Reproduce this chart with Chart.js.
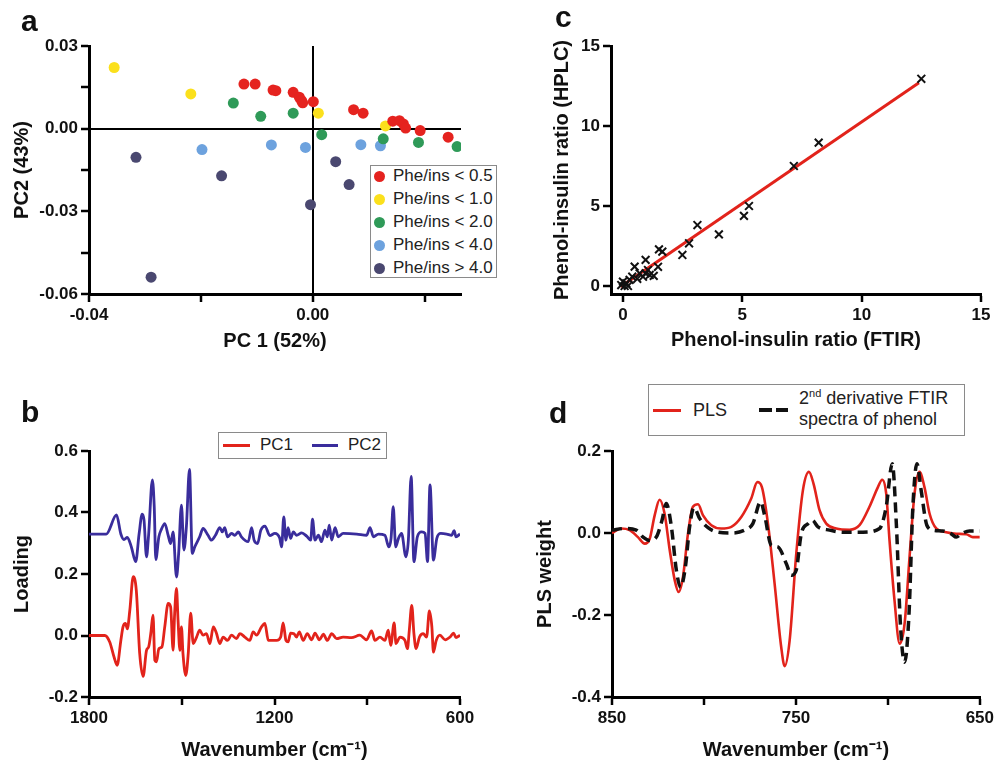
<!DOCTYPE html>
<html>
<head>
<meta charset="utf-8">
<script src="https://cdn.jsdelivr.net/npm/chart.js@4.4.0/dist/chart.umd.min.js"></script>
<style>
  body { margin: 0; background: #fff; width: 997px; height: 762px; position: relative; overflow: hidden;
         font-family: "Liberation Sans", Arial, Helvetica, sans-serif; color: #111; }
  canvas { position: absolute; }
  .tag { position: absolute; font-weight: bold; font-size: 30px; line-height: 30px; color: #111; }
  .legend { position: absolute; box-sizing: border-box; border: 1.5px solid #8a8a8a; background: #fff; color: #222; }
  .legend .row { position: absolute; white-space: nowrap; }
  .swatch { position: absolute; }
</style>
</head>
<body>
<canvas id="chartA" width="498" height="380" style="left:0;top:0"></canvas>
<canvas id="chartC" width="497" height="380" style="left:500px;top:0"></canvas>
<canvas id="chartB" width="498" height="382" style="left:0;top:380px"></canvas>
<canvas id="chartD" width="497" height="382" style="left:500px;top:380px"></canvas>

<div class="tag" style="left:21px;top:6px">a</div>
<div class="tag" style="left:555px;top:2px">c</div>
<div class="tag" style="left:21px;top:397px">b</div>
<div class="tag" style="left:549px;top:398px">d</div>

<div class="legend" id="legendA" style="left:370px;top:165px;width:127px;height:113px"></div>
<div class="legend" id="legendB" style="left:218px;top:432px;width:169px;height:27px"></div>
<div class="legend" id="legendD" style="left:648px;top:384px;width:317px;height:52px"></div>

<script>
const FONT = '"Liberation Sans", Arial, Helvetica, sans-serif';

// ── a: PCA scores (PC1, PC2) ──────────────────────────────────────────────
const scoreLabels = ['Phe/ins < 0.5', 'Phe/ins < 1.0', 'Phe/ins < 2.0', 'Phe/ins < 4.0', 'Phe/ins > 4.0'];
const scoreColors = ['#e5231f', '#fbe01c', '#2f9a58', '#6da2de', '#4a4870'];
const scoresBelow05 = [
    [-0.0123, 0.0162], [-0.0103, 0.0162], [-0.0071, 0.0140], [-0.0066, 0.0138], [-0.0035, 0.0132],
    [-0.0024, 0.0114], [-0.0020, 0.0102], [-0.0018, 0.0094], [0.0001, 0.0098], [0.0073, 0.0069],
    [0.0090, 0.0056], [0.0143, 0.0027], [0.0155, 0.0029], [0.0162, 0.0017], [0.0166, 0.0002],
    [0.0192, -0.0007], [0.0242, -0.0031]
];
const scoresBelow10 = [[-0.0355, 0.0222], [-0.0218, 0.0126], [0.0010, 0.0056], [0.0130, 0.0010]];
const scoresBelow20 = [
    [-0.0142, 0.0093], [-0.0093, 0.0045], [-0.0035, 0.0056], [0.0016, -0.0022],
    [0.0126, -0.0037], [0.0189, -0.0050], [0.0258, -0.0065]
];
const scoresBelow40 = [[-0.0198, -0.0076], [-0.0074, -0.0059], [-0.0013, -0.0068], [0.0086, -0.0058], [0.0121, -0.0062]];
const scoresAbove40 = [[-0.0316, -0.0104], [-0.0163, -0.0171], [-0.0004, -0.0276], [0.0041, -0.0120], [0.0065, -0.0203], [-0.0289, -0.0539]];
const scoreGroups = [scoresBelow05, scoresBelow10, scoresBelow20, scoresBelow40, scoresAbove40];

// ── b: PCA loadings ───────────────────────────────────────────────────────
const pc1Wavenumber = [1800, 1749, 1733, 1719, 1709, 1697, 1690, 1682, 1676, 1668, 1657, 1647, 1636, 1625, 1614, 1607,
    1600, 1593, 1587, 1582, 1574, 1564, 1555, 1544, 1536, 1528, 1523, 1517, 1512, 1506, 1501, 1496, 1487, 1479, 1471,
    1463, 1452, 1442, 1431, 1420, 1409, 1398, 1388, 1377, 1366, 1352, 1339, 1323, 1312, 1296, 1280, 1269, 1258, 1242,
    1231, 1220, 1204, 1193, 1180, 1172, 1163, 1156, 1148, 1137, 1129, 1120, 1107, 1094, 1080, 1069, 1055, 1042, 1029,
    1015, 999, 978, 951, 924, 902, 886, 875, 859, 843, 832, 824, 813, 807, 794, 778, 770, 764, 756, 749, 742, 731, 719,
    708, 699, 691, 686, 677, 665, 648, 632, 621, 613, 600];
const pc1Loading = [0.0, 0.0, -0.021, -0.07, -0.097, -0.016, 0.028, 0.039, 0.022, 0.082, 0.191, 0.147, -0.059, -0.133,
    -0.048, -0.037, 0.008, 0.066, -0.081, -0.086, -0.043, -0.037, 0.028, 0.104, 0.093, -0.048, 0.071, 0.153, 0.05,
    -0.048, 0.028, -0.059, -0.13, -0.059, 0.073, -0.026, -0.005, 0.017, 0.001, 0.006, -0.026, 0.028, 0.008, -0.026,
    -0.005, -0.016, 0.001, -0.01, 0.006, -0.005, -0.016, 0.012, 0.001, 0.028, 0.039, -0.016, -0.016, -0.016, -0.005,
    0.041, -0.016, -0.021, 0.008, 0.006, -0.005, 0.012, -0.016, 0.006, -0.014, 0.008, -0.014, 0.004, -0.016, 0.006,
    -0.01, -0.005, -0.007, 0.001, -0.014, 0.015, -0.016, -0.005, -0.016, 0.017, -0.032, 0.041, -0.026, -0.005, -0.016,
    -0.043, 0.017, 0.098, 0.006, -0.043, -0.005, 0.006, -0.005, 0.08, 0.028, -0.054, -0.016, 0.001, -0.014, -0.005,
    0.008, -0.007, 0.001];
const pc2Wavenumber = [1800, 1744, 1711, 1697, 1687, 1676, 1663, 1649, 1638, 1628, 1622, 1614, 1607, 1595, 1589, 1584,
    1574, 1566, 1555, 1544, 1536, 1528, 1517, 1510, 1501, 1493, 1485, 1475, 1466, 1458, 1442, 1431, 1415, 1404, 1391,
    1377, 1369, 1361, 1352, 1339, 1328, 1317, 1307, 1285, 1274, 1266, 1255, 1244, 1231, 1215, 1199, 1183, 1177, 1170,
    1163, 1156, 1148, 1139, 1129, 1112, 1096, 1083, 1077, 1069, 1058, 1048, 1037, 1029, 1023, 1015, 1004, 994, 978, 934,
    902, 891, 880, 864, 843, 830, 823, 816, 808, 799, 789, 775, 767, 758, 749, 738, 724, 713, 705, 697, 686, 675, 662,
    643, 627, 619, 613, 600];
const pc2Loading = [0.33, 0.33, 0.392, 0.33, 0.312, 0.319, 0.288, 0.24, 0.33, 0.395, 0.375, 0.256, 0.33, 0.506, 0.419,
    0.247, 0.321, 0.345, 0.364, 0.326, 0.299, 0.337, 0.19, 0.267, 0.424, 0.278, 0.354, 0.54, 0.267, 0.288, 0.321, 0.348,
    0.326, 0.31, 0.326, 0.351, 0.337, 0.351, 0.321, 0.332, 0.326, 0.337, 0.321, 0.305, 0.351, 0.31, 0.299, 0.343, 0.356,
    0.325, 0.332, 0.316, 0.288, 0.386, 0.31, 0.351, 0.316, 0.337, 0.326, 0.334, 0.323, 0.31, 0.378, 0.31, 0.326, 0.305,
    0.343, 0.321, 0.359, 0.31, 0.351, 0.321, 0.332, 0.33, 0.326, 0.351, 0.321, 0.33, 0.326, 0.288, 0.316, 0.419, 0.288,
    0.316, 0.332, 0.256, 0.31, 0.517, 0.24, 0.321, 0.337, 0.332, 0.24, 0.49, 0.245, 0.316, 0.332, 0.33, 0.326, 0.341,
    0.321, 0.33];

// ── c: FTIR vs HPLC phenol-insulin ratio ──────────────────────────────────
const ratioFtir = [12.5, 8.2, 7.16, 5.28, 5.07, 4.02, 3.12, 2.77, 2.49, 1.51, 1.65, 1.47, 1.29, 0.95, 0.95, 0.49, 0.70,
    0.84, 1.12, 0.39, 0.28, 0.14, 0.0, -0.07, 0.21, 0.07, 0.60, 1.05];
const ratioHplc = [12.95, 8.96, 7.5, 5.0, 4.38, 3.23, 3.81, 2.67, 1.94, 2.29, 2.15, 1.2, 0.63, 1.63, 0.79, 1.21, 0.79,
    0.58, 0.69, 0.58, 0.38, 0.17, 0.27, 0.06, 0.0, 0.0, 0.45, 1.0];
const fitFtir = [-0.1, 12.4];
const fitHplc = [-0.05, 12.7];

// ── d: PLS weights vs 2nd derivative spectrum of phenol ──────────────────
const plsWavenumber = [850, 845, 840.4, 835.9, 832.2, 829.5, 826.8, 824.1, 821.4, 818.6, 815.9, 813.8, 811.4, 808.7, 806,
    803.2, 800.5, 796, 790.6, 785.1, 779.7, 774.3, 771, 768.5, 765.2, 761.6, 758, 756.1, 753.4, 749.8, 746.2, 742.9,
    740.4, 737.1, 733.5, 728.1, 720.8, 715.4, 710, 705.4, 703.1, 700.9, 699.1, 696.4, 693.6, 690.9, 688.2, 685.5, 682.8,
    680.1, 677.3, 673.7, 668.3, 662.8, 657.4, 653.8, 650];
const plsWeight = [0.0, 0.011, 0.007, -0.01, -0.026, -0.014, 0.043, 0.081, 0.047, -0.042, -0.115, -0.144, -0.107,
    -0.002, 0.064, 0.07, 0.043, 0.019, 0.011, 0.015, 0.039, 0.084, 0.124, 0.112, 0.023, -0.123, -0.278, -0.325, -0.262,
    -0.05, 0.104, 0.149, 0.12, 0.055, 0.023, 0.011, 0.008, 0.019, 0.064, 0.112, 0.13, 0.096, -0.018, -0.164, -0.27,
    -0.221, -0.058, 0.096, 0.149, 0.112, 0.047, 0.011, 0.002, -0.002, -0.003, -0.01, -0.01];
const derivWavenumber = [850, 843.1, 836.8, 833.1, 829.5, 825.9, 822.8, 820.5, 817.7, 815, 812.7, 810.1, 807.8, 805.4,
    802.3, 797.8, 792.4, 785.1, 777.9, 773.4, 769.2, 767, 763.4, 759.8, 755.2, 752.5, 749.8, 747.1, 743.4, 741.1, 738,
    731.7, 724.4, 713.6, 704.5, 700.9, 697.6, 695.4, 693.1, 690.9, 688.5, 686.4, 684.2, 681.9, 678.8, 675.5, 670.1,
    665.5, 662.8, 660.1, 655.6, 650];
const derivSpectrum = [0.007, 0.011, 0.007, -0.01, -0.018, -0.01, 0.031, 0.072, 0.015, -0.091, -0.132, -0.083, 0.015,
    0.062, 0.035, 0.013, 0.002, 0.0, 0.007, 0.023, 0.076, 0.043, -0.03, -0.034, -0.075, -0.103, -0.09, -0.002, 0.023,
    0.031, 0.015, 0.007, 0.002, 0.002, 0.011, 0.064, 0.169, 0.023, -0.229, -0.315, -0.197, 0.064, 0.169, 0.104, 0.019,
    0.007, 0.005, -0.002, -0.01, -0.002, 0.005, 0.005];

const RED = '#e2231b';
const BLUE = '#3a2d9c';

// helpers
const toPoints = (xs, ys) => xs.map((x, i) => ({ x: x, y: ys[i] }));

function fmt(v, digits) {
    if (Math.abs(v) < 1e-9) v = 0;
    return v.toFixed(digits);
}

function axis(o) {
    return {
        type: 'linear',
        position: o.position,
        min: o.min,
        max: o.max,
        reverse: !!o.reverse,
        border: { display: true, color: '#000', width: 3 },
        grid: {
            drawOnChartArea: !!o.zeroLine,
            color: ctx => (o.zeroLine && ctx.tick && Math.abs(ctx.tick.value) < 1e-9) ? '#000' : 'rgba(0,0,0,0)',
            lineWidth: 2,
            drawTicks: true,
            tickLength: 8,
            tickColor: '#000',
            tickWidth: 2.5
        },
        ticks: {
            stepSize: o.step,
            includeBounds: false,
            autoSkip: false,
            maxRotation: 0,
            padding: 3,
            color: '#111',
            font: { family: FONT, size: 17, weight: 'bold' },
            callback: v => {
                const k = (v - o.labelFrom) / o.labelEvery;
                return Math.abs(k - Math.round(k)) < 1e-6 ? fmt(v, o.digits) : '';
            }
        },
        title: {
            display: true,
            text: o.title,
            color: '#111',
            padding: 0,
            font: { family: FONT, size: 20, weight: 'bold' }
        },
        afterFit: s => {
            if (o.position === 'left') s.width = o.size;
            else s.height = o.size;
        }
    };
}

const baseOptions = (padding, scales) => ({
    responsive: false,
    animation: false,
    layout: { padding: padding },
    plugins: { legend: { display: false }, tooltip: { enabled: false } },
    scales: scales
});

// ── a ──
new Chart(document.getElementById('chartA'), {
    type: 'scatter',
    data: {
        datasets: scoreGroups.map((g, i) => ({
            label: scoreLabels[i],
            data: g.map(([x, y]) => ({ x, y })),
            backgroundColor: scoreColors[i],
            borderWidth: 0,
            pointRadius: 5.5
        }))
    },
    options: baseOptions({ left: 10, right: 37, top: 46, bottom: 27 }, {
        x: axis({ position: 'bottom', min: -0.04, max: 0.0265, step: 0.02, labelFrom: -0.04, labelEvery: 0.04,
                  digits: 2, title: 'PC 1 (52%)', size: 59, zeroLine: true }),
        y: axis({ position: 'left', min: -0.06, max: 0.03, step: 0.015, labelFrom: -0.06, labelEvery: 0.03,
                  digits: 2, title: 'PC2 (43%)', size: 79, zeroLine: true })
    })
});

// ── b ──
new Chart(document.getElementById('chartB'), {
    type: 'scatter',
    data: {
        datasets: [
            { label: 'PC1', data: toPoints(pc1Wavenumber, pc1Loading), showLine: true, borderColor: RED,
              borderWidth: 2.8, pointRadius: 0, cubicInterpolationMode: 'monotone' },
            { label: 'PC2', data: toPoints(pc2Wavenumber, pc2Loading), showLine: true, borderColor: BLUE,
              borderWidth: 2.8, pointRadius: 0, cubicInterpolationMode: 'monotone' }
        ]
    },
    options: baseOptions({ left: 10, right: 38, top: 71, bottom: 0 }, {
        x: axis({ position: 'bottom', min: 600, max: 1800, reverse: true, step: 300, labelFrom: 600, labelEvery: 600,
                  digits: 0, title: 'Wavenumber (cm\u207B\u00B9)', size: 65 }),
        y: axis({ position: 'left', min: -0.2, max: 0.6, step: 0.2, labelFrom: -0.2, labelEvery: 0.2,
                  digits: 1, title: 'Loading', size: 79 })
    })
});

// ── c ──
new Chart(document.getElementById('chartC'), {
    type: 'scatter',
    data: {
        datasets: [
            { label: 'Samples', data: toPoints(ratioFtir, ratioHplc), pointStyle: 'crossRot', pointRadius: 5.5,
              borderColor: '#111', borderWidth: 2, order: 0 },
            { label: 'Fit', data: toPoints(fitFtir, fitHplc), showLine: true, borderColor: RED, borderWidth: 3,
              pointRadius: 0, order: 1 }
        ]
    },
    options: baseOptions({ left: 50, right: 16, top: 46, bottom: 28 }, {
        x: axis({ position: 'bottom', min: -0.5, max: 15, step: 5, labelFrom: 0, labelEvery: 5,
                  digits: 0, title: 'Phenol-insulin ratio (FTIR)', size: 58 }),
        y: axis({ position: 'left', min: -0.5, max: 15, step: 5, labelFrom: 0, labelEvery: 5,
                  digits: 0, title: 'Phenol-insulin ratio (HPLC)', size: 61 })
    })
});

// ── d ──
new Chart(document.getElementById('chartD'), {
    type: 'scatter',
    data: {
        datasets: [
            { label: '2nd derivative FTIR spectra of phenol', data: toPoints(derivWavenumber, derivSpectrum),
              showLine: true, borderColor: '#111', borderWidth: 3.5, borderDash: [10, 6], pointRadius: 0,
              cubicInterpolationMode: 'monotone', order: 0 },
            { label: 'PLS', data: toPoints(plsWavenumber, plsWeight), showLine: true, borderColor: RED,
              borderWidth: 2.6, pointRadius: 0, cubicInterpolationMode: 'monotone', order: 1 }
        ]
    },
    options: baseOptions({ left: 33, right: 17, top: 71, bottom: 0 }, {
        x: axis({ position: 'bottom', min: 650, max: 850, reverse: true, step: 50, labelFrom: 650, labelEvery: 100,
                  digits: 0, title: 'Wavenumber (cm\u207B\u00B9)', size: 65 }),
        y: axis({ position: 'left', min: -0.4, max: 0.2, step: 0.2, labelFrom: -0.4, labelEvery: 0.2,
                  digits: 1, title: 'PLS weight', size: 79 })
    })
});

// ── legends ──
const legendA = document.getElementById('legendA');
scoreLabels.forEach((label, i) => {
    const row = document.createElement('div');
    row.className = 'row';
    row.style.cssText = 'left:3px;top:' + (i * 23) + 'px;height:20px;line-height:20px;font-size:17px;';
    row.innerHTML = '<span style="display:inline-block;width:11px;height:11px;border-radius:50%;vertical-align:-1px;' +
        'margin-right:8px;background:' + scoreColors[i] + '"></span>' + label.replace('<', '&lt;').replace('>', '&gt;');
    legendA.appendChild(row);
});

document.getElementById('legendB').innerHTML =
    '<div class="swatch" style="left:4px;top:11px;width:27px;height:3px;background:' + RED + '"></div>' +
    '<div class="row" style="left:41px;top:2px;font-size:17px;line-height:20px">PC1</div>' +
    '<div class="swatch" style="left:93px;top:11px;width:26px;height:3px;background:' + BLUE + '"></div>' +
    '<div class="row" style="left:129px;top:2px;font-size:17px;line-height:20px">PC2</div>';

document.getElementById('legendD').innerHTML =
    '<div class="swatch" style="left:4px;top:24px;width:28px;height:3px;background:' + RED + '"></div>' +
    '<div class="row" style="left:44px;top:14px;font-size:18px;line-height:22px">PLS</div>' +
    '<div class="swatch" style="left:110px;top:23px;width:13px;height:4px;background:#111"></div>' +
    '<div class="swatch" style="left:127px;top:23px;width:12px;height:4px;background:#111"></div>' +
    '<div class="row" style="left:150px;top:3px;font-size:18px;line-height:20px">2<sup style="font-size:11px;line-height:0">nd</sup> derivative FTIR</div>' +
    '<div class="row" style="left:150px;top:24px;font-size:18px;line-height:20px">spectra of phenol</div>';
</script>
</body>
</html>
